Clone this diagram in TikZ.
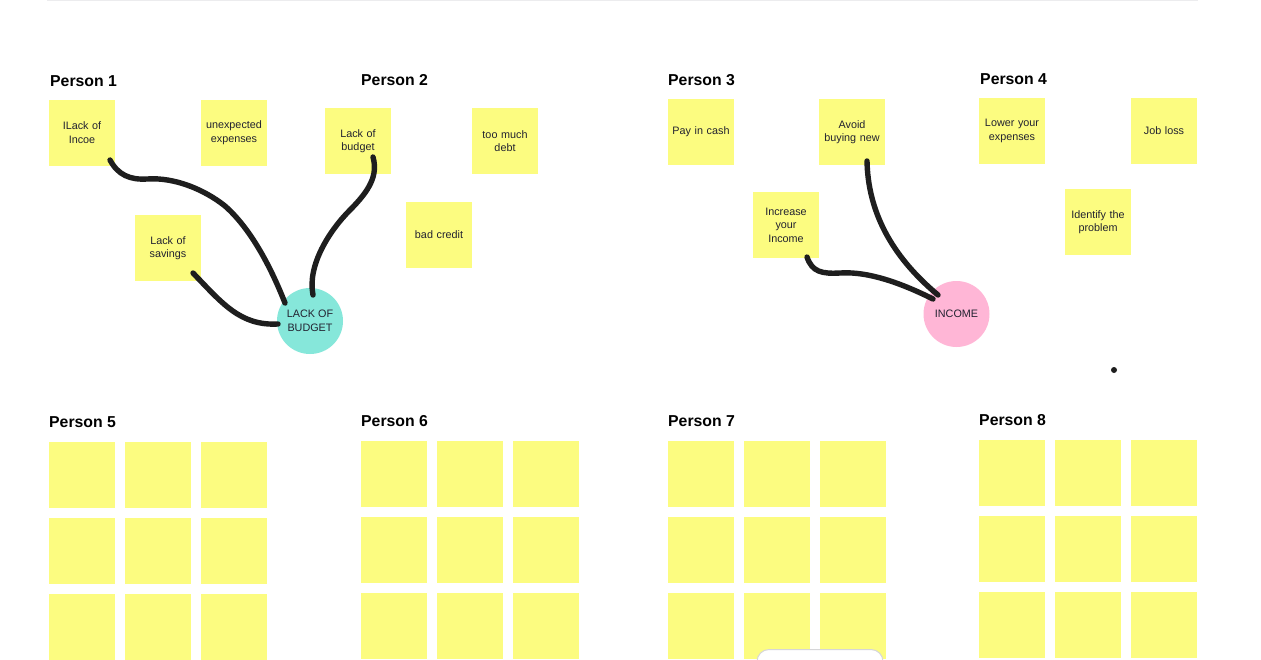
\documentclass[tikz,border=0pt]{standalone}
\usepackage{fontspec}
\setmainfont{Liberation Sans}
\definecolor{sticky}{RGB}{252,252,128}
\definecolor{teal}{RGB}{134,231,218}
\definecolor{pinkc}{RGB}{255,182,214}
\definecolor{inkc}{RGB}{30,30,30}
\definecolor{txt}{RGB}{34,34,48}
\definecolor{rule}{RGB}{236,236,238}
\begin{document}
\begin{tikzpicture}[x=1pt,y=-1pt,
  note/.style={fill=sticky,draw=none,minimum width=66pt,minimum height=66pt,inner sep=0pt,
    text width=64pt,align=center,font=\fontsize{10.8}{13.5}\selectfont,text=txt},
  blank/.style={fill=sticky,draw=none,minimum width=66pt,minimum height=66pt,inner sep=0pt},
  hub/.style={circle,draw=none,minimum size=66pt,inner sep=0pt,align=center,
    font=\fontsize{10.8}{13.5}\selectfont,text=txt},
  who/.style={anchor=base west,inner sep=0pt,font=\fontsize{15.8}{18}\selectfont\bfseries,text=black},
  ink/.style={draw=inkc,line width=5.4pt,line cap=round,line join=round}]
\useasboundingbox (0,0) rectangle (1261,659);
\clip (0,0) rectangle (1261,659);
\fill[white] (0,0) rectangle (1261,659);
\draw[rule,line width=1.6pt] (47,0.6) -- (1198,0.6);

% Person labels
\node[who] (p1) at (50,86) {Person 1};
\node[who] (p2) at (361,85) {Person 2};
\node[who] (p3) at (668,85) {Person 3};
\node[who] (p4) at (980,84) {Person 4};
\node[who] (p5) at (49,427) {Person 5};
\node[who] (p6) at (361,426) {Person 6};
\node[who] (p7) at (668,426) {Person 7};
\node[who] (p8) at (979,425) {Person 8};

% Person 1
\node[note] (incoe) at (82,132.5) {ILack of\\Incoe};
\node[note] (unexp) at (234,132.5) {unexpected\\expenses};
\node[note] (savings) at (168,248) {Lack of\\savings};
% Person 2
\node[note] (lbudget) at (358,141) {Lack of\\budget};
\node[note] (debt) at (505,141) {too much\\debt};
\node[note] (credit) at (439,234.5) {bad credit};
% Person 3
\node[note] (cash) at (701,132) {Pay in cash};
\node[note] (avoid) at (852,132) {Avoid\\buying new};
\node[note] (increase) at (786,225) {Increase\\your\\Income};
% Person 4
\node[note] (lower) at (1012,131) {Lower your\\expenses};
\node[note] (jobloss) at (1164,131) {Job loss};
\node[note] (identify) at (1098,222) {Identify the\\problem};

% hubs
\node[hub,fill=teal] (budget) at (310,321) {LACK OF\\BUDGET};
\node[hub,fill=pinkc] (income) at (956.5,314) {INCOME};

% dot
\fill[inkc] (1114,370) circle (3pt);

% connector end points
\coordinate (s1) at (110,160);
\coordinate (e1) at (285,303);
\coordinate (s2) at (193,273);
\coordinate (e2) at (278,324);
\coordinate (s3) at (373,157);
\coordinate (e3) at (313,295);
\coordinate (s4) at (807,257);
\coordinate (e4) at (933,299);
\coordinate (s5) at (867,161);
\coordinate (e5) at (938,295);

\draw[ink] (s1) .. controls (118,175) and (130,180) .. (147,179)
  .. controls (175,177) and (205,190) .. (225,206)
  .. controls (250,228) and (270,265) .. (e1);
\draw[ink] (s2) .. controls (222,303) and (240,326) .. (e2);
\draw[ink] (s3) .. controls (378,175) and (370,190) .. (350,210)
  .. controls (330,230) and (307,265) .. (e3);
\draw[ink] (s4) .. controls (812,272) and (822,274) .. (840,273)
  .. controls (870,271) and (905,285) .. (e4);
\draw[ink] (s5) .. controls (868,210) and (890,255) .. (e5);

% blank grids
\foreach \gx/\gy/\g in {49/442/a,361/441/b,668/441/c,979/440/d}{
  \foreach \i in {0,1,2}{
    \foreach \j in {0,1,2}{
      \node[blank] (\g\i\j) at (\gx+33+76*\i,\gy+33+76*\j) {};
    }
  }
}

% bottom toolbar
\draw[draw=rule!80!gray,fill=white,line width=1pt,rounded corners=12pt] (757,649.5) rectangle (883,700);
\end{tikzpicture}
\end{document}
